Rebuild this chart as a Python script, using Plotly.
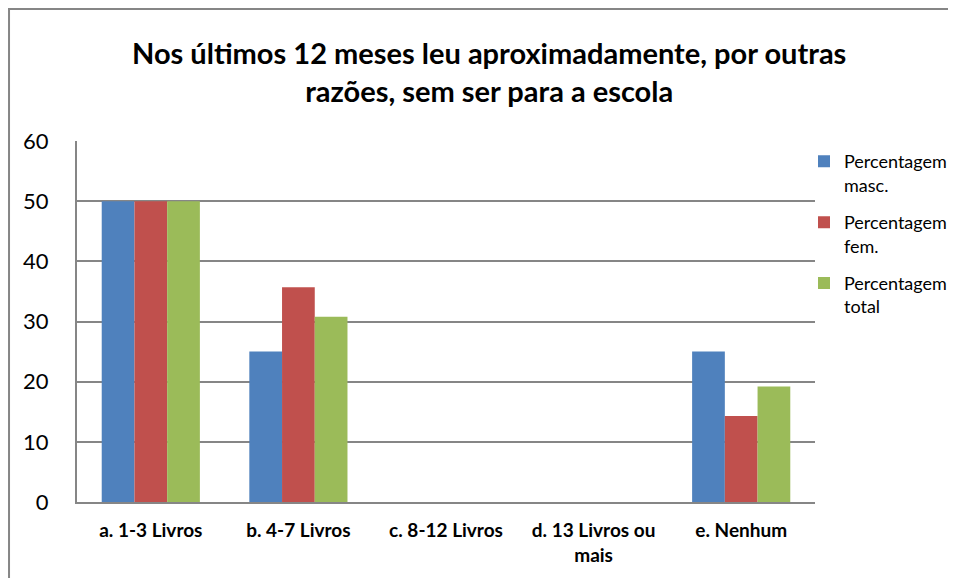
import plotly.graph_objects as go

categories = ["a. 1-3 Livros", "b. 4-7 Livros", "c. 8-12 Livros", "d. 13 Livros ou<br>mais", "e. Nenhum"]
masc = [50, 25, 0, 0, 25]
fem = [50, 35.7, 0, 0, 14.3]
total = [50, 30.8, 0, 0, 19.2]
series_names = ["Percentagem<br>masc.", "Percentagem<br>fem.", "Percentagem<br>total"]
colors = ["#4F81BD", "#C0504D", "#9BBB59"]
y_ticks = [0, 10, 20, 30, 40, 50, 60]

FONT = "Lato, Calibri, Carlito, sans-serif"

fig = go.Figure()
for i, (name, vals, col) in enumerate(zip(series_names, [masc, fem, total], colors)):
    fig.add_trace(go.Bar(x=categories, y=vals, name=name, legendgroup="g%d" % i,
                         marker=dict(color=col, line=dict(width=0))))

fig.update_layout(
    width=956, height=578,
    margin=dict(l=69, r=149, t=133, b=84, autoexpand=False),
    paper_bgcolor="white", plot_bgcolor="white",
    barmode="group", bargap=0.335, bargroupgap=0,
    font=dict(family=FONT, color="#000000"),
    showlegend=True,
    legend=dict(x=0.9851, y=0.994, xanchor="left", yanchor="top",
                font=dict(size=18, family=FONT), valign="top",
                traceorder="grouped", tracegroupgap=11,
                itemwidth=30, bgcolor="rgba(0,0,0,0)"),
    xaxis=dict(showgrid=False, showline=True, linecolor="#868686", linewidth=2,
               tickfont=dict(size=19, family=FONT, weight="bold"), ticks="", tickangle=0),
    yaxis=dict(range=[0, 60], tickvals=y_ticks, showgrid=True, gridcolor="#868686", gridwidth=2,
               showline=True, linecolor="#868686", linewidth=2, ticks="",
               tickfont=dict(size=22, family=FONT), zeroline=False, ticklen=0),
    annotations=[dict(text="<b>Nos últimos 12 meses leu aproximadamente, por outras<br>razões, sem ser para a escola</b>",
                      xref="paper", yref="paper", x=0.558, y=1.299, xanchor="center", yanchor="top",
                      showarrow=False, font=dict(size=29, family=FONT, color="#000000"))],
    shapes=[dict(type="rect", xref="paper", yref="paper", x0=-0.0921, x1=1.4, y0=-0.4, y1=1.3657,
                 line=dict(color="#868686", width=2), fillcolor="rgba(0,0,0,0)", layer="below")],
)
fig.update_xaxes(ticklabelstandoff=10)
fig.update_yaxes(ticklabelstandoff=22)

fig.write_html("out.html")
